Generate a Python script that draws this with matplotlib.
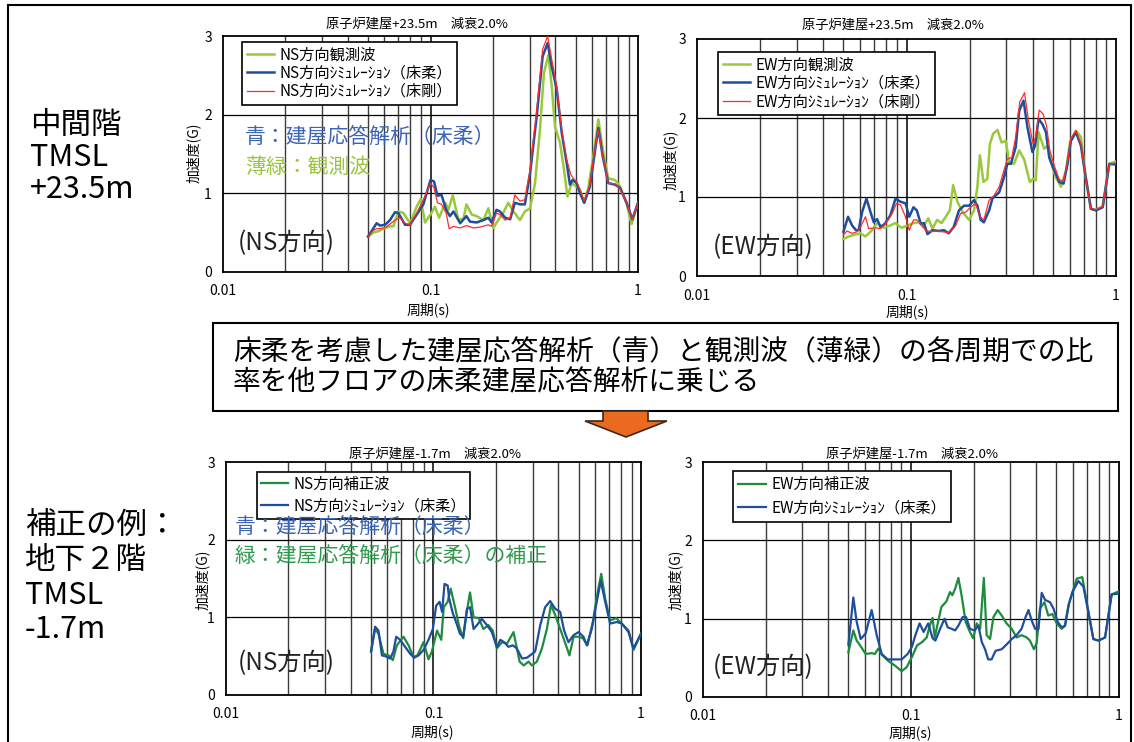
import matplotlib
matplotlib.use("Agg")
import matplotlib.pyplot as plt
from matplotlib.patches import Rectangle, Polygon
from matplotlib.lines import Line2D
from matplotlib.ticker import NullLocator

plt.rcParams['font.family'] = ['Noto Sans CJK JP', 'DejaVu Sans']

# ---------------- data: response spectra (period [s], acceleration [G]) ----------------
# Upper floor +23.5m, NS direction
ns_up_obs_T = [0.0500, 0.0530, 0.0561, 0.0604, 0.0638, 0.0662, 0.0700, 0.0740, 0.0797, 0.0858,
               0.0897, 0.0941, 0.100, 0.105, 0.110, 0.118, 0.122, 0.128, 0.136, 0.144,
               0.149, 0.158, 0.167, 0.180, 0.190, 0.201, 0.212, 0.224, 0.237, 0.251,
               0.270, 0.285, 0.302, 0.319, 0.337, 0.352, 0.370, 0.384, 0.398, 0.421,
               0.440, 0.457, 0.479, 0.502, 0.525, 0.549, 0.576, 0.609, 0.644, 0.681,
               0.719, 0.775, 0.819, 0.882, 0.932, 1.0]
ns_up_obs = [0.45, 0.50, 0.52, 0.56, 0.58, 0.58, 0.77, 0.75, 0.62, 0.83,
             0.93, 0.63, 0.73, 0.83, 0.69, 0.88, 0.79, 0.98, 0.67, 0.67,
             0.86, 0.73, 0.71, 0.66, 0.81, 0.56, 0.66, 0.75, 0.88, 0.77,
             0.66, 0.77, 0.81, 1.13, 1.81, 2.53, 2.76, 2.36, 1.85, 1.64,
             1.30, 0.96, 1.13, 1.09, 1.05, 0.88, 1.07, 1.47, 1.94, 1.51,
             1.19, 1.17, 1.09, 0.86, 0.61, 0.88]

ns_up_soft_T = [0.0500, 0.0550, 0.0571, 0.0604, 0.0638, 0.0674, 0.0700, 0.0754, 0.0797, 0.0858,
                0.0924, 0.100, 0.104, 0.108, 0.113, 0.119, 0.124, 0.129, 0.139, 0.149,
                0.155, 0.167, 0.180, 0.190, 0.197, 0.208, 0.216, 0.229, 0.242, 0.255,
                0.270, 0.285, 0.302, 0.325, 0.347, 0.367, 0.384, 0.406, 0.429, 0.453,
                0.470, 0.484, 0.506, 0.525, 0.551, 0.587, 0.609, 0.644, 0.676, 0.719,
                0.775, 0.819, 0.882, 0.939, 1.0]
ns_up_soft = [0.45, 0.62, 0.59, 0.60, 0.66, 0.76, 0.75, 0.60, 0.60, 0.73,
              0.86, 1.17, 1.15, 0.97, 0.98, 0.79, 0.71, 0.77, 0.62, 0.71,
              0.64, 0.63, 0.66, 0.69, 0.63, 0.79, 0.77, 0.69, 0.67, 0.88,
              0.86, 0.86, 1.26, 1.98, 2.74, 2.91, 2.61, 2.32, 1.77, 1.39,
              1.11, 1.17, 1.13, 1.00, 0.88, 1.09, 1.39, 1.83, 1.47, 1.13,
              1.11, 1.07, 0.88, 0.67, 0.88]

ns_up_rigid_T = [0.0500, 0.0525, 0.0550, 0.0604, 0.0674, 0.0713, 0.0754, 0.0797, 0.0858, 0.0924,
                 0.100, 0.104, 0.108, 0.113, 0.119, 0.123, 0.129, 0.139, 0.149, 0.161,
                 0.173, 0.190, 0.197, 0.208, 0.216, 0.229, 0.242, 0.255, 0.270, 0.285,
                 0.302, 0.325, 0.347, 0.367, 0.384, 0.406, 0.429, 0.453, 0.474, 0.488,
                 0.506, 0.525, 0.551, 0.587, 0.609, 0.644, 0.681, 0.719, 0.775, 0.819,
                 0.882, 0.939, 1.0]
ns_up_rigid = [0.45, 0.52, 0.55, 0.56, 0.66, 0.69, 0.62, 0.60, 0.75, 0.92,
               1.13, 1.07, 0.88, 0.86, 0.75, 0.55, 0.58, 0.56, 0.59, 0.56,
               0.57, 0.60, 0.58, 0.75, 0.73, 0.66, 0.69, 0.98, 0.90, 0.92,
               1.30, 2.06, 2.83, 3.00, 2.70, 2.36, 1.81, 1.43, 1.24, 1.19,
               1.15, 1.05, 0.90, 1.11, 1.43, 1.81, 1.43, 1.13, 1.12, 1.06,
               0.88, 0.67, 0.88]

# Upper floor +23.5m, EW direction
ew_up_obs_T = [0.0500, 0.0530, 0.0560, 0.0603, 0.0637, 0.0685, 0.0724, 0.0779, 0.0838, 0.0886,
               0.0946, 0.101, 0.108, 0.115, 0.120, 0.127, 0.133, 0.140, 0.147, 0.154,
               0.161, 0.167, 0.175, 0.185, 0.199, 0.210, 0.218, 0.224, 0.233, 0.243,
               0.250, 0.259, 0.272, 0.284, 0.298, 0.309, 0.326, 0.345, 0.364, 0.388,
               0.402, 0.414, 0.427, 0.454, 0.471, 0.489, 0.516, 0.546, 0.577, 0.605,
               0.644, 0.680, 0.713, 0.759, 0.802, 0.864, 0.929, 1.0]
ew_up_obs = [0.47, 0.50, 0.52, 0.54, 0.50, 0.58, 0.67, 0.61, 0.64, 0.67,
             0.61, 0.64, 0.67, 0.68, 0.62, 0.73, 0.60, 0.71, 0.67, 0.75,
             0.83, 1.15, 0.94, 0.81, 0.71, 0.83, 1.13, 1.53, 1.19, 1.23,
             1.67, 1.80, 1.85, 1.69, 1.71, 1.44, 1.42, 1.59, 1.48, 1.19,
             1.23, 1.21, 1.82, 1.61, 1.65, 1.44, 1.25, 1.13, 1.34, 1.71,
             1.84, 1.76, 1.29, 0.85, 0.84, 0.88, 1.42, 1.45]

ew_up_soft_T = [0.0500, 0.0526, 0.0550, 0.0574, 0.0591, 0.0614, 0.0644, 0.0673, 0.0698, 0.0724,
                0.0751, 0.0788, 0.0838, 0.0886, 0.0936, 0.0989, 0.103, 0.108, 0.112, 0.117,
                0.121, 0.126, 0.133, 0.143, 0.151, 0.159, 0.168, 0.178, 0.188, 0.199,
                0.210, 0.218, 0.226, 0.234, 0.248, 0.257, 0.277, 0.292, 0.303, 0.315,
                0.332, 0.345, 0.362, 0.378, 0.399, 0.411, 0.427, 0.446, 0.463, 0.480,
                0.507, 0.536, 0.562, 0.587, 0.609, 0.644, 0.680, 0.713, 0.759, 0.802,
                0.864, 0.929, 1.0]
ew_up_soft = [0.56, 0.75, 0.64, 0.58, 0.58, 0.81, 0.98, 0.81, 0.68, 0.72,
              0.62, 0.66, 0.77, 0.98, 0.94, 0.92, 0.75, 0.87, 0.83, 0.66,
              0.67, 0.53, 0.58, 0.57, 0.58, 0.54, 0.62, 0.83, 0.89, 0.89,
              0.96, 0.89, 0.71, 0.68, 0.83, 0.98, 1.06, 1.25, 1.42, 1.42,
              1.63, 2.09, 2.22, 1.88, 1.57, 1.65, 1.99, 1.92, 1.82, 1.50,
              1.34, 1.19, 1.17, 1.42, 1.71, 1.82, 1.65, 1.29, 0.85, 0.83,
              0.87, 1.42, 1.41]

ew_up_rigid_T = [0.0500, 0.0520, 0.0550, 0.0581, 0.0603, 0.0637, 0.0660, 0.0711, 0.0751, 0.0794,
                 0.0854, 0.0896, 0.0936, 0.0989, 0.103, 0.108, 0.112, 0.119, 0.123, 0.130,
                 0.138, 0.148, 0.159, 0.172, 0.181, 0.192, 0.202, 0.214, 0.224, 0.234,
                 0.248, 0.262, 0.277, 0.292, 0.303, 0.318, 0.332, 0.347, 0.366, 0.382,
                 0.402, 0.414, 0.430, 0.449, 0.466, 0.483, 0.507, 0.536, 0.562, 0.587,
                 0.609, 0.644, 0.680, 0.713, 0.759, 0.802, 0.864, 0.929, 1.0]
ew_up_rigid = [0.52, 0.57, 0.54, 0.56, 0.62, 0.75, 0.60, 0.61, 0.60, 0.66,
               0.79, 0.92, 0.90, 0.75, 0.58, 0.71, 0.71, 0.64, 0.58, 0.56,
               0.57, 0.56, 0.55, 0.64, 0.79, 0.81, 0.87, 0.92, 0.75, 0.71,
               0.96, 1.02, 1.13, 1.34, 1.48, 1.50, 1.76, 2.20, 2.32, 1.97,
               1.67, 1.76, 2.10, 2.05, 1.90, 1.59, 1.40, 1.22, 1.20, 1.44,
               1.74, 1.84, 1.67, 1.29, 0.85, 0.84, 0.88, 1.42, 1.43]

# Basement -1.7m, NS direction
ns_low_corr_T = [0.0500, 0.0523, 0.0543, 0.0574, 0.0607, 0.0637, 0.0666, 0.0717, 0.0758, 0.0801,
                 0.0837, 0.0895, 0.0946, 0.0982, 0.104, 0.109, 0.112, 0.117, 0.121, 0.127,
                 0.133, 0.139, 0.145, 0.150, 0.156, 0.165, 0.174, 0.184, 0.193, 0.202,
                 0.214, 0.226, 0.243, 0.260, 0.272, 0.287, 0.298, 0.315, 0.333, 0.352,
                 0.368, 0.386, 0.408, 0.426, 0.452, 0.473, 0.500, 0.525, 0.552, 0.586,
                 0.612, 0.643, 0.672, 0.710, 0.759, 0.808, 0.871, 0.920, 1.0]
ns_low_corr = [0.56, 0.85, 0.79, 0.53, 0.51, 0.45, 0.64, 0.75, 0.64, 0.49,
               0.51, 0.68, 0.46, 0.56, 0.83, 0.71, 1.13, 1.20, 1.37, 1.13,
               0.88, 0.73, 1.09, 1.32, 1.00, 0.99, 0.85, 0.90, 0.83, 0.60,
               0.68, 0.66, 0.81, 0.43, 0.38, 0.43, 0.38, 0.43, 0.60, 0.85,
               1.16, 1.03, 0.85, 0.71, 0.51, 0.75, 0.75, 0.73, 0.64, 0.94,
               1.26, 1.56, 1.24, 0.96, 0.99, 0.92, 0.83, 0.58, 0.79]

ns_low_soft_T = [0.0500, 0.0523, 0.0543, 0.0564, 0.0585, 0.0618, 0.0641, 0.0661, 0.0691, 0.0730,
                 0.0772, 0.0807, 0.0847, 0.0895, 0.0946, 0.0993, 0.103, 0.107, 0.110, 0.113,
                 0.117, 0.119, 0.124, 0.130, 0.134, 0.139, 0.145, 0.150, 0.156, 0.162,
                 0.171, 0.181, 0.191, 0.202, 0.210, 0.219, 0.230, 0.241, 0.252, 0.267,
                 0.282, 0.292, 0.309, 0.327, 0.345, 0.365, 0.386, 0.408, 0.426, 0.447,
                 0.473, 0.500, 0.528, 0.548, 0.579, 0.612, 0.640, 0.672, 0.710, 0.765,
                 0.808, 0.871, 0.920, 1.0]
ns_low_soft = [0.56, 0.88, 0.83, 0.51, 0.50, 0.47, 0.56, 0.75, 0.71, 0.62,
               0.53, 0.48, 0.51, 0.58, 0.71, 0.85, 1.15, 1.20, 1.07, 1.43,
               1.41, 1.24, 1.05, 0.90, 0.79, 0.75, 1.11, 1.13, 0.85, 0.90,
               0.98, 0.90, 0.81, 0.62, 0.71, 0.68, 0.62, 0.64, 0.60, 0.47,
               0.48, 0.51, 0.56, 0.90, 1.13, 1.21, 1.11, 1.07, 0.83, 0.68,
               0.77, 0.81, 0.75, 0.64, 0.85, 1.20, 1.47, 1.20, 0.92, 0.94,
               0.92, 0.81, 0.60, 0.79]

# Basement -1.7m, EW direction
ew_low_corr_T = [0.0500, 0.0528, 0.0548, 0.0569, 0.0605, 0.0647, 0.0671, 0.0697, 0.0723, 0.0778,
                 0.0838, 0.0902, 0.0953, 0.101, 0.107, 0.113, 0.119, 0.123, 0.127, 0.130,
                 0.135, 0.140, 0.148, 0.154, 0.158, 0.163, 0.169, 0.175, 0.183, 0.192,
                 0.199, 0.207, 0.215, 0.224, 0.231, 0.240, 0.249, 0.261, 0.273, 0.288,
                 0.305, 0.322, 0.340, 0.360, 0.373, 0.390, 0.402, 0.417, 0.438, 0.457,
                 0.478, 0.502, 0.530, 0.550, 0.571, 0.597, 0.626, 0.666, 0.712, 0.753,
                 0.796, 0.857, 0.922, 1.0]
ew_low_corr = [0.57, 0.85, 0.72, 0.66, 0.55, 0.56, 0.55, 0.62, 0.54, 0.46,
               0.40, 0.33, 0.38, 0.51, 0.66, 0.70, 0.76, 0.91, 1.01, 0.76,
               0.96, 1.15, 1.22, 1.34, 1.30, 1.38, 1.52, 1.30, 0.96, 0.83,
               0.75, 0.94, 0.87, 1.52, 0.79, 0.74, 1.02, 1.11, 1.04, 0.94,
               0.87, 0.76, 0.79, 0.76, 0.72, 0.61, 0.69, 1.13, 1.21, 1.04,
               1.06, 0.94, 0.87, 0.91, 1.17, 1.33, 1.51, 1.53, 1.09, 0.74,
               0.72, 0.76, 1.31, 1.35]

ew_low_soft_T = [0.0500, 0.0528, 0.0548, 0.0573, 0.0605, 0.0647, 0.0684, 0.0723, 0.0772, 0.0832,
                 0.0902, 0.0964, 0.101, 0.105, 0.110, 0.115, 0.121, 0.127, 0.131, 0.138,
                 0.145, 0.150, 0.157, 0.163, 0.169, 0.177, 0.184, 0.192, 0.202, 0.211,
                 0.219, 0.227, 0.235, 0.244, 0.255, 0.273, 0.288, 0.305, 0.322, 0.340,
                 0.353, 0.367, 0.380, 0.395, 0.410, 0.425, 0.441, 0.466, 0.484, 0.507,
                 0.530, 0.550, 0.575, 0.597, 0.638, 0.674, 0.712, 0.753, 0.796, 0.857,
                 0.922, 1.0]
ew_low_soft = [0.67, 1.27, 0.96, 0.74, 0.81, 1.11, 0.79, 0.55, 0.48, 0.48,
               0.48, 0.55, 0.64, 0.79, 0.94, 0.83, 0.94, 0.75, 0.72, 0.87,
               1.00, 0.89, 0.87, 0.85, 0.91, 1.02, 1.02, 0.87, 0.85, 0.91,
               0.70, 0.61, 0.48, 0.48, 0.59, 0.61, 0.67, 0.74, 0.79, 0.87,
               1.00, 1.11, 0.98, 0.87, 0.87, 1.33, 1.24, 1.21, 1.13, 0.96,
               0.89, 0.91, 1.19, 1.34, 1.48, 1.41, 1.09, 0.74, 0.72, 0.76,
               1.31, 1.32]

x_ticks = [0.01, 0.1, 1]
x_tick_labels = ['0.01', '0.1', '1']
y_ticks = [0, 1, 2, 3]

# ---------------- colours ----------------
C_OBS = '#99C93A'
C_SOFT = '#1F4E9C'
C_RIGID = '#FF2A2A'
C_CORR = '#1E8B3E'
C_TXT_BLUE = '#3B64B4'
C_TXT_LGREEN = '#9BC43F'
C_TXT_GREEN = '#2F9A4E'

W, H = 1134, 742
fig = plt.figure(figsize=(W / 100, H / 100), dpi=100)


def fx(px):
    return px / W


def fy(py):
    return 1 - py / H


def add_panel(x0, y0, x1, y1):
    ax = fig.add_axes([fx(x0), fy(y1), (x1 - x0) / W, (y1 - y0) / H])
    ax.set_xscale('log')
    ax.set_xlim(0.01, 1)
    ax.set_ylim(0, 3)
    ax.set_xticks(x_ticks)
    ax.set_xticklabels(x_tick_labels)
    ax.xaxis.set_minor_locator(NullLocator())
    ax.set_yticks(y_ticks)
    ax.tick_params(axis='both', length=0, labelsize=10)
    ax.tick_params(axis='x', pad=9)
    ax.tick_params(axis='y', pad=8)
    for dec in (0.01, 0.1):
        for k in range(2, 10):
            ax.axvline(dec * k, color='#3c3c3c', lw=1.0, zorder=1)
    ax.axvline(0.1, color='black', lw=1.1, zorder=1)
    for h in (1, 2):
        ax.axhline(h, color='black', lw=0.9, zorder=1)
    for sp in ax.spines.values():
        sp.set_linewidth(1.3)
        sp.set_color('black')
    return ax


def legend(ax, handles, labels, anchor, spacing, pad):
    leg = ax.legend(handles, labels, loc='upper left', bbox_to_anchor=anchor,
                    frameon=True, fancybox=False, framealpha=1, edgecolor='black',
                    fontsize=11, borderpad=pad, labelspacing=spacing,
                    handlelength=1.8, handletextpad=0.35, borderaxespad=0)
    leg.get_frame().set_linewidth(1.2)
    leg.set_zorder(10)
    return leg


# outer frame
fig.patches.append(Rectangle((fx(8), fy(752)), (1131 - 8) / W, (752 - 5) / H,
                             transform=fig.transFigure, fill=False,
                             edgecolor='black', lw=1.5))

# ---------------- upper NS ----------------
ax1 = add_panel(223, 36, 638, 272)
ax1.plot(ns_up_obs_T, ns_up_obs, color=C_OBS, lw=1.8, zorder=3)
ax1.plot(ns_up_soft_T, ns_up_soft, color=C_SOFT, lw=1.8, zorder=4)
ax1.plot(ns_up_rigid_T, ns_up_rigid, color=C_RIGID, lw=0.9, zorder=5)
legend(ax1,
       [Line2D([], [], color=C_OBS, lw=1.8), Line2D([], [], color=C_SOFT, lw=1.8),
        Line2D([], [], color=C_RIGID, lw=0.9)],
       ['NS方向観測波', 'NS方向ｼﾐｭﾚｰｼｮﾝ（床柔）', 'NS方向ｼﾐｭﾚｰｼｮﾝ（床剛）'],
       (0.046, 0.975), 0.08, 0.3)

# ---------------- upper EW ----------------
ax2 = add_panel(697, 39, 1116, 276)
ax2.plot(ew_up_obs_T, ew_up_obs, color=C_OBS, lw=1.8, zorder=3)
ax2.plot(ew_up_soft_T, ew_up_soft, color=C_SOFT, lw=1.8, zorder=4)
ax2.plot(ew_up_rigid_T, ew_up_rigid, color=C_RIGID, lw=0.9, zorder=5)
legend(ax2,
       [Line2D([], [], color=C_OBS, lw=1.8), Line2D([], [], color=C_SOFT, lw=1.8),
        Line2D([], [], color=C_RIGID, lw=0.9)],
       ['EW方向観測波', 'EW方向ｼﾐｭﾚｰｼｮﾝ（床柔）', 'EW方向ｼﾐｭﾚｰｼｮﾝ（床剛）'],
       (0.050, 0.945), 0.08, 0.3)

# ---------------- lower NS ----------------
ax3 = add_panel(226, 462, 641, 695)
ax3.plot(ns_low_corr_T, ns_low_corr, color=C_CORR, lw=1.6, zorder=3)
ax3.plot(ns_low_soft_T, ns_low_soft, color=C_SOFT, lw=1.6, zorder=4)
legend(ax3,
       [Line2D([], [], color=C_CORR, lw=1.6), Line2D([], [], color=C_SOFT, lw=1.6)],
       ['NS方向補正波', 'NS方向ｼﾐｭﾚｰｼｮﾝ（床柔）'],
       (0.075, 0.957), 0.32, 0.25)

# ---------------- lower EW ----------------
ax4 = add_panel(703, 462, 1119, 697)
ax4.plot(ew_low_corr_T, ew_low_corr, color=C_CORR, lw=1.6, zorder=3)
ax4.plot(ew_low_soft_T, ew_low_soft, color=C_SOFT, lw=1.6, zorder=4)
legend(ax4,
       [Line2D([], [], color=C_CORR, lw=1.6), Line2D([], [], color=C_SOFT, lw=1.6)],
       ['EW方向補正波', 'EW方向ｼﾐｭﾚｰｼｮﾝ（床柔）'],
       (0.072, 0.962), 0.4, 0.35)

# ---------------- titles and axis labels ----------------
title_up = '原子炉建屋+23.5m　減衰2.0%'
title_low = '原子炉建屋-1.7m　減衰2.0%'
for (x, y, t) in [(417, 24, title_up), (893, 25, title_up),
                  (435, 454, title_low), (912, 454, title_low)]:
    fig.text(fx(x), fy(y), t, fontsize=9.5, ha='center', va='center')
for (x, y) in [(428, 310), (907, 312), (432, 732), (910, 733)]:
    fig.text(fx(x), fy(y), '周期(s)', fontsize=10, ha='center', va='center')
for (x, y) in [(193, 153), (670, 160), (202, 580), (675, 580)]:
    fig.text(fx(x), fy(y), '加速度(G)', fontsize=10, ha='center', va='center',
             rotation=90)

# ---------------- notes inside the panels ----------------
fig.text(fx(245), fy(137), '青：建屋応答解析（床柔）', fontsize=15, color=C_TXT_BLUE,
         va='center', ha='left', zorder=6)
fig.text(fx(245), fy(167), '薄緑：観測波', fontsize=15, color=C_TXT_LGREEN,
         va='center', ha='left', zorder=6)
fig.text(fx(235), fy(527), '青：建屋応答解析（床柔）', fontsize=15, color=C_TXT_BLUE,
         va='center', ha='left', zorder=6)
fig.text(fx(235), fy(556), '緑：建屋応答解析（床柔）の補正', fontsize=15, color=C_TXT_GREEN,
         va='center', ha='left', zorder=6)
for (x, y, t) in [(238, 243, '(NS方向)'), (713, 247, '(EW方向)'),
                  (238, 663, '(NS方向)'), (713, 667, '(EW方向)')]:
    fig.text(fx(x), fy(y), t, fontsize=17.5, color='#222222', va='center', ha='left')

# ---------------- floor labels on the left ----------------
for (y, t) in [(125, '中間階'), (158, 'TMSL'), (190, '+23.5m')]:
    fig.text(fx(30), fy(y), t, fontsize=22, va='center', ha='left')
for (y, t) in [(525, '補正の例：'), (560, '地下２階'), (595, 'TMSL'), (630, '-1.7m')]:
    fig.text(fx(25), fy(y), t, fontsize=22, va='center', ha='left')

# ---------------- explanation box and arrow ----------------
fig.patches.append(Rectangle((fx(213), fy(411)), (1118 - 213) / W, (411 - 323) / H,
                             transform=fig.transFigure, facecolor='white',
                             edgecolor='black', lw=1.5))
fig.text(fx(233), fy(352), '床柔を考慮した建屋応答解析（青）と観測波（薄緑）の各周期での比',
         fontsize=20, va='center', ha='left')
fig.text(fx(233), fy(382), '率を他フロアの床柔建屋応答解析に乗じる',
         fontsize=20, va='center', ha='left')

arrow_px = [(603, 411), (648, 411), (648, 421), (667, 421), (626, 437),
            (585, 421), (603, 421)]
fig.patches.append(Polygon([(fx(x), fy(y)) for x, y in arrow_px], closed=True,
                           transform=fig.transFigure, facecolor='#EA6A1F',
                           edgecolor='#3a2a20', lw=1.2))

fig.savefig('out.png', dpi=100)
